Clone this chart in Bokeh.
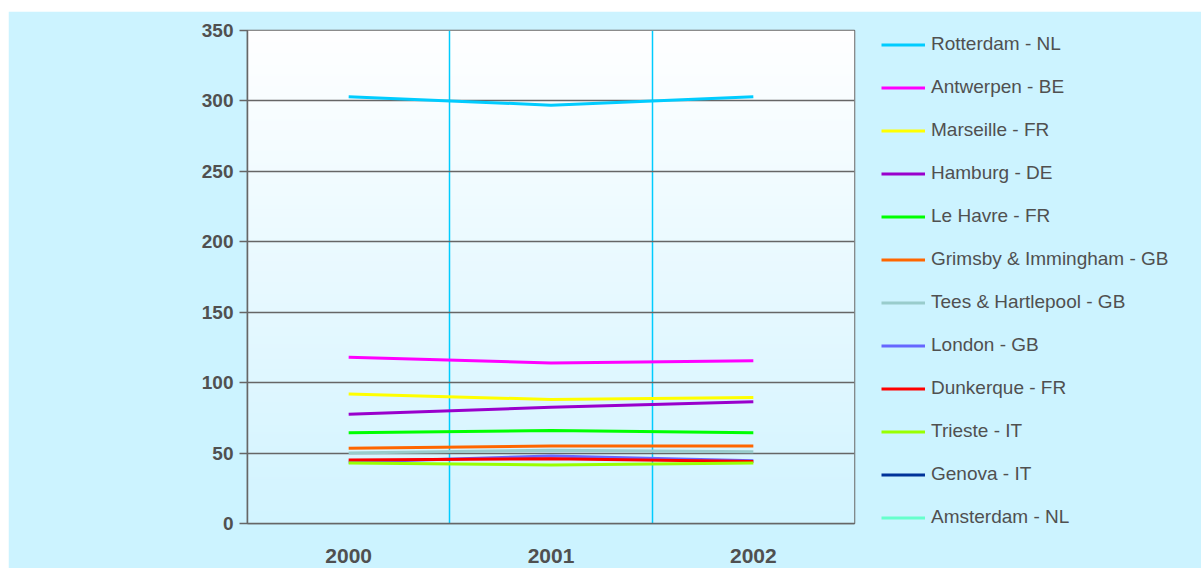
import numpy as np
from bokeh.plotting import figure
from bokeh.models import Range1d, FixedTicker, Legend, LegendItem, ColumnDataSource
from bokeh.embed import file_html
from bokeh.resources import INLINE

# Tonnage by port (millions of tonnes), 2000-2002
years = ["2000", "2001", "2002"]
ports = ["Rotterdam - NL", "Antwerpen - BE", "Marseille - FR", "Hamburg - DE",
         "Le Havre - FR", "Grimsby & Immingham - GB", "Tees & Hartlepool - GB",
         "London - GB", "Dunkerque - FR", "Trieste - IT", "Genova - IT",
         "Amsterdam - NL"]
colors = ["#00ccff", "#ff00ff", "#ffff00", "#9900cc", "#00ff00", "#ff6600",
          "#99cccc", "#6666ff", "#ff0000", "#99ff00", "#003399", "#66ffcc"]

nan = float("nan")
rotterdam = [303.0, 297.0, 303.0]
antwerpen = [118.0, 114.0, 115.5]
marseille = [92.0, 88.0, 89.5]
hamburg = [77.5, 82.5, 86.5]
le_havre = [64.5, 66.0, 64.5]
grimsby = [53.5, 55.0, 55.0]
tees = [50.0, 52.0, 51.0]
london = [43.5, 48.0, 44.5]
dunkerque = [45.0, 46.0, 44.0]
trieste = [43.0, 41.5, 43.0]
genova = [nan, nan, nan]
amsterdam = [nan, nan, nan]

series = [rotterdam, antwerpen, marseille, hamburg, le_havre, grimsby, tees,
          london, dunkerque, trieste, genova, amsterdam]

y_ticks = [0, 50, 100, 150, 200, 250, 300, 350]

TEXT = "#505050"
GRID = "#666666"
FONT = "Liberation Sans"

# year i sits in the middle of band [i, i+1]
xs = [i + 0.5 for i in range(len(years))]

p = figure(frame_width=607, frame_height=493, output_backend="svg",
           toolbar_location=None,
           x_range=Range1d(0, len(years)), y_range=Range1d(0, 350),
           min_border_left=239, min_border_right=347, min_border_top=19,
           min_border_bottom=45, border_fill_color="#ccf3ff",
           background_fill_color="#ffffff")
p.margin = (11, 0, 0, 8)

# vertical gradient behind the plot area
n = 256
img = np.empty((n, 1), dtype=np.uint32)
view = img.view(dtype=np.uint8).reshape((n, 1, 4))
t = np.linspace(0.0, 1.0, n)
bottom = np.array([210, 244, 255])
top = np.array([255, 255, 255])
for c in range(3):
    view[:, 0, c] = (bottom[c] + (top[c] - bottom[c]) * t).astype(np.uint8)
view[:, 0, 3] = 255
p.image_rgba(image=[img], x=0, y=0, dw=len(years), dh=350, level="image")

p.outline_line_color = GRID
p.outline_line_width = 1.5

p.ygrid.ticker = FixedTicker(ticks=y_ticks[1:-1])
p.ygrid.grid_line_color = GRID
p.ygrid.grid_line_width = 1.5
p.xgrid.ticker = FixedTicker(ticks=list(range(1, len(years))))
p.xgrid.grid_line_color = "#00ccff"
p.xgrid.grid_line_width = 1.5

ya = p.yaxis[0]
ya.ticker = FixedTicker(ticks=y_ticks)
ya.axis_line_color = GRID
ya.axis_line_width = 1.5
ya.major_tick_line_color = GRID
ya.major_tick_line_width = 1.5
ya.major_tick_out = 8
ya.major_tick_in = 0
ya.minor_tick_line_color = None
ya.major_label_standoff = 6
ya.major_label_text_font = FONT
ya.major_label_text_font_size = "19px"
ya.major_label_text_font_style = "bold"
ya.major_label_text_color = TEXT

xa = p.xaxis[0]
xa.ticker = FixedTicker(ticks=xs)
xa.major_label_overrides = {x: y for x, y in zip(xs, years)}
xa.axis_line_color = GRID
xa.axis_line_width = 1.5
xa.major_tick_line_color = None
xa.minor_tick_line_color = None
xa.major_label_standoff = 19
xa.major_label_text_font = FONT
xa.major_label_text_font_size = "21px"
xa.major_label_text_font_style = "bold"
xa.major_label_text_color = TEXT

items = []
for name, col, vals in zip(ports, colors, series):
    src = ColumnDataSource(dict(x=xs, y=vals))
    r = p.line("x", "y", source=src, line_color=col, line_width=3)
    items.append(LegendItem(label=name, renderers=[r]))

legend = Legend(items=items, location=(27, -5), orientation="vertical",
                background_fill_alpha=0, border_line_color=None,
                glyph_width=44, glyph_height=21, label_height=21, spacing=21,
                label_standoff=6, padding=0, margin=0,
                label_text_font=FONT, label_text_font_size="19px",
                label_text_color=TEXT)
p.add_layout(legend, "right")

open("out.html", "w").write(file_html(p, INLINE))
